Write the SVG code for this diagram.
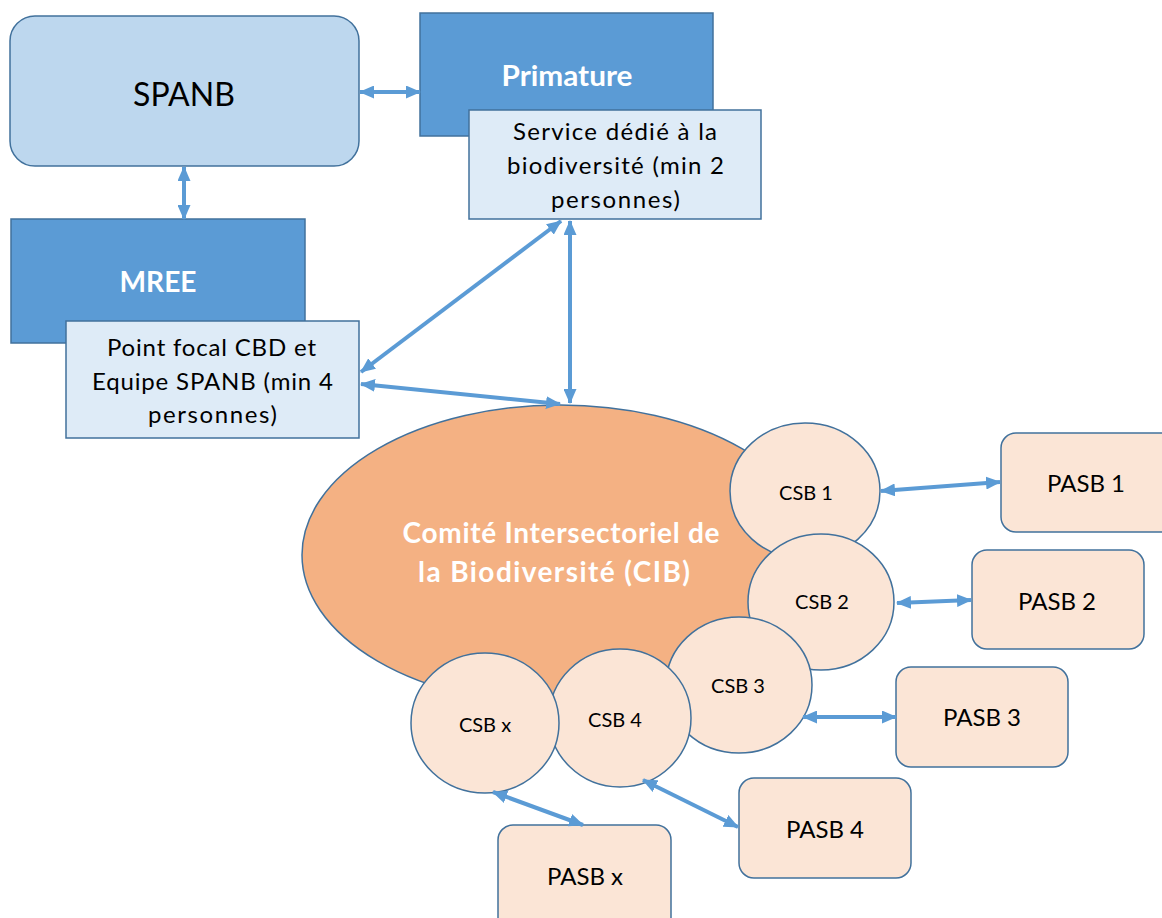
<svg xmlns="http://www.w3.org/2000/svg" width="1162" height="918" viewBox="0 0 1162 918">
<style>
text{font-family:Lato,"Liberation Sans",sans-serif;text-anchor:middle;fill:#000}
.w{fill:#fff;font-weight:bold}
.st{stroke:#41719C;stroke-width:1.5}
.lb{fill:#BDD7EE}
.db{fill:#5B9BD5}
.xb{fill:#DEEBF7}
.or{fill:#F4B183}
.pk{fill:#FBE5D6}
.c line{stroke:#5B9BD5;stroke-width:4;marker-start:url(#ah);marker-end:url(#ah)}
</style>
<defs>
<marker id="ah" markerUnits="userSpaceOnUse" viewBox="0 0 15 13" refX="14" refY="6.5" markerWidth="15" markerHeight="13" orient="auto-start-reverse">
<path d="M0,0 L15,6.5 L0,13 Z" fill="#5B9BD5"/>
</marker>
</defs>
<rect width="1162" height="918" fill="#fff"/>
<g id="spanb"><rect class="lb st" x="10" y="16" width="349" height="150" rx="25"/><text x="184" y="106" font-size="32">SPANB</text></g>
<g id="primature"><rect class="db st" x="420" y="13" width="293" height="123"/><text class="w" x="567" y="86" font-size="28" textLength="131" lengthAdjust="spacingAndGlyphs">Primature</text></g>
<g id="service"><rect class="xb st" x="469" y="110" width="292" height="109"/>
<text x="615" y="140" font-size="24" textLength="204">Service dédié à la</text><text x="615.5" y="174" font-size="24" textLength="217">biodiversité (min 2</text><text x="615.5" y="208" font-size="24" textLength="129">personnes)</text></g>
<g id="mree"><rect class="db st" x="11" y="219" width="294" height="124"/><text class="w" x="158" y="292" font-size="28" textLength="77" lengthAdjust="spacingAndGlyphs">MREE</text></g>
<g id="pointfocal"><rect class="xb st" x="66" y="321" width="293" height="117"/>
<text x="211.5" y="356" font-size="24" textLength="209">Point focal CBD et</text><text x="212.5" y="390" font-size="24" textLength="241">Equipe SPANB (min 4</text><text x="212.5" y="423" font-size="24" textLength="129">personnes)</text></g>
<g id="cib"><ellipse class="or st" cx="560" cy="555" rx="258" ry="150"/>
<text class="w" x="561" y="543" font-size="28" textLength="317">Comité Intersectoriel de</text><text class="w" x="554" y="582" font-size="28" textLength="272">la Biodiversité (CIB)</text></g>
<g id="csb1"><ellipse class="pk st" cx="805" cy="491" rx="75" ry="68"/><text x="806" y="500" font-size="20">CSB 1</text></g>
<g id="csb2"><ellipse class="pk st" cx="821" cy="602" rx="73" ry="68"/><text x="822" y="609" font-size="20">CSB 2</text></g>
<g id="csb3"><ellipse class="pk st" cx="739" cy="685" rx="73" ry="68"/><text x="738" y="693" font-size="20">CSB 3</text></g>
<g id="csb4"><ellipse class="pk st" cx="620" cy="718" rx="71" ry="69"/><text x="615" y="727" font-size="20">CSB 4</text></g>
<g id="csbx"><ellipse class="pk st" cx="485" cy="723" rx="74" ry="70"/><text x="485" y="732" font-size="20">CSB x</text></g>
<g id="pasb1"><rect class="pk st" x="1001" y="433" width="175" height="99" rx="15"/><text x="1086" y="492" font-size="24">PASB 1</text></g>
<g id="pasb2"><rect class="pk st" x="972" y="550" width="172" height="99" rx="15"/><text x="1057" y="610" font-size="24">PASB 2</text></g>
<g id="pasb3"><rect class="pk st" x="896" y="667" width="172" height="100" rx="15"/><text x="982" y="726" font-size="24">PASB 3</text></g>
<g id="pasb4"><rect class="pk st" x="739" y="778" width="172" height="100" rx="15"/><text x="825" y="838" font-size="24">PASB 4</text></g>
<g id="pasbx"><rect class="pk st" x="498" y="825" width="173" height="110" rx="15"/><text x="585" y="885" font-size="24">PASB x</text></g>
<g id="connectors" class="c">
<line x1="360" y1="92" x2="420" y2="92"/>
<line x1="184" y1="167" x2="184" y2="219"/>
<line x1="561" y1="221" x2="361" y2="372"/>
<line x1="361" y1="384" x2="560" y2="404"/>
<line x1="570" y1="221" x2="570" y2="403"/>
<line x1="881" y1="491" x2="1000" y2="482"/>
<line x1="897" y1="603" x2="971" y2="600"/>
<line x1="803" y1="717" x2="896" y2="717"/>
<line x1="643" y1="780" x2="738" y2="827"/>
<line x1="493" y1="792" x2="583" y2="825"/>
</g>
</svg>
